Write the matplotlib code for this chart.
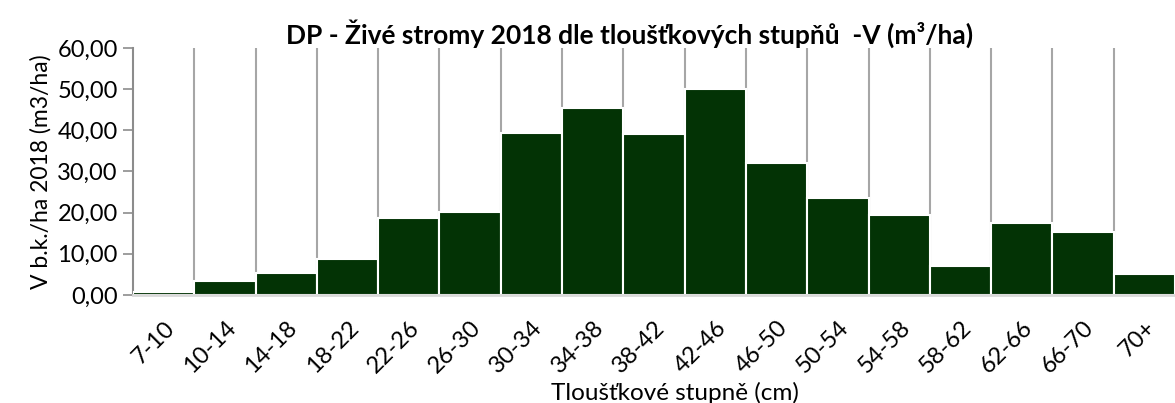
import numpy as np
import matplotlib.pyplot as plt
from matplotlib.ticker import FuncFormatter

# tloustkove stupne a zasoba na ha
stupne = ["7-10", "10-14", "14-18", "18-22", "22-26", "26-30", "30-34", "34-38", "38-42",
          "42-46", "46-50", "50-54", "54-58", "58-62", "62-66", "66-70", "70+"]
objem = [0.8, 3.4, 5.4, 8.7, 18.8, 20.1, 39.3, 45.4, 39.2,
         50.0, 32.0, 23.5, 19.5, 7.0, 17.5, 15.2, 5.2]
yticks = [0, 10, 20, 30, 40, 50, 60]

plt.rcParams['font.family'] = ['Lato', 'DejaVu Sans']

fig = plt.figure(figsize=(11.75, 4.03), dpi=100)
ax = fig.add_axes([0.1132, 0.268, 0.8868, 0.613])

x = np.arange(len(stupne))
ax.bar(x, objem, width=1.0, color="#033305", edgecolor="white", linewidth=1.5, zorder=3)

# svisle mrizky mezi kategoriemi
for b in x[1:] - 0.5:
    ax.axvline(b, color="#a6a6a6", linewidth=1.5, zorder=1)

ax.set_xlim(-0.5, len(stupne) - 0.5)
ax.set_ylim(0, 60)
ax.set_yticks(yticks)
ax.yaxis.set_major_formatter(FuncFormatter(lambda v, p: f"{v:.2f}".replace(".", ",")))
ax.set_xticks(x)
ax.set_xticklabels(stupne, rotation=45, ha="right", rotation_mode="anchor")

ax.tick_params(axis="y", labelsize=17, length=7, width=1.2, color="#8c8c8c", pad=4)
ax.tick_params(axis="x", labelsize=17, length=0, pad=16)

for s in ["top", "right"]:
    ax.spines[s].set_visible(False)
ax.spines["left"].set_color("#8c8c8c")
ax.spines["left"].set_linewidth(1.5)
ax.spines["bottom"].set_color("#d9d9d9")
ax.spines["bottom"].set_linewidth(2)
ax.spines["bottom"].set_zorder(4)

ax.set_ylabel("V b.k./ha 2018 (m3/ha)", fontsize=16.5, labelpad=4)
ax.set_xlabel("Tloušťkové stupně (cm)", fontsize=17.5, labelpad=3, x=0.52)
ax.set_title("DP - Živé stromy 2018 dle tloušťkových stupňů  -V (m³/ha)",
             fontsize=19, fontweight="bold", pad=3, x=0.477)

fig.savefig("out.png", dpi=100)
